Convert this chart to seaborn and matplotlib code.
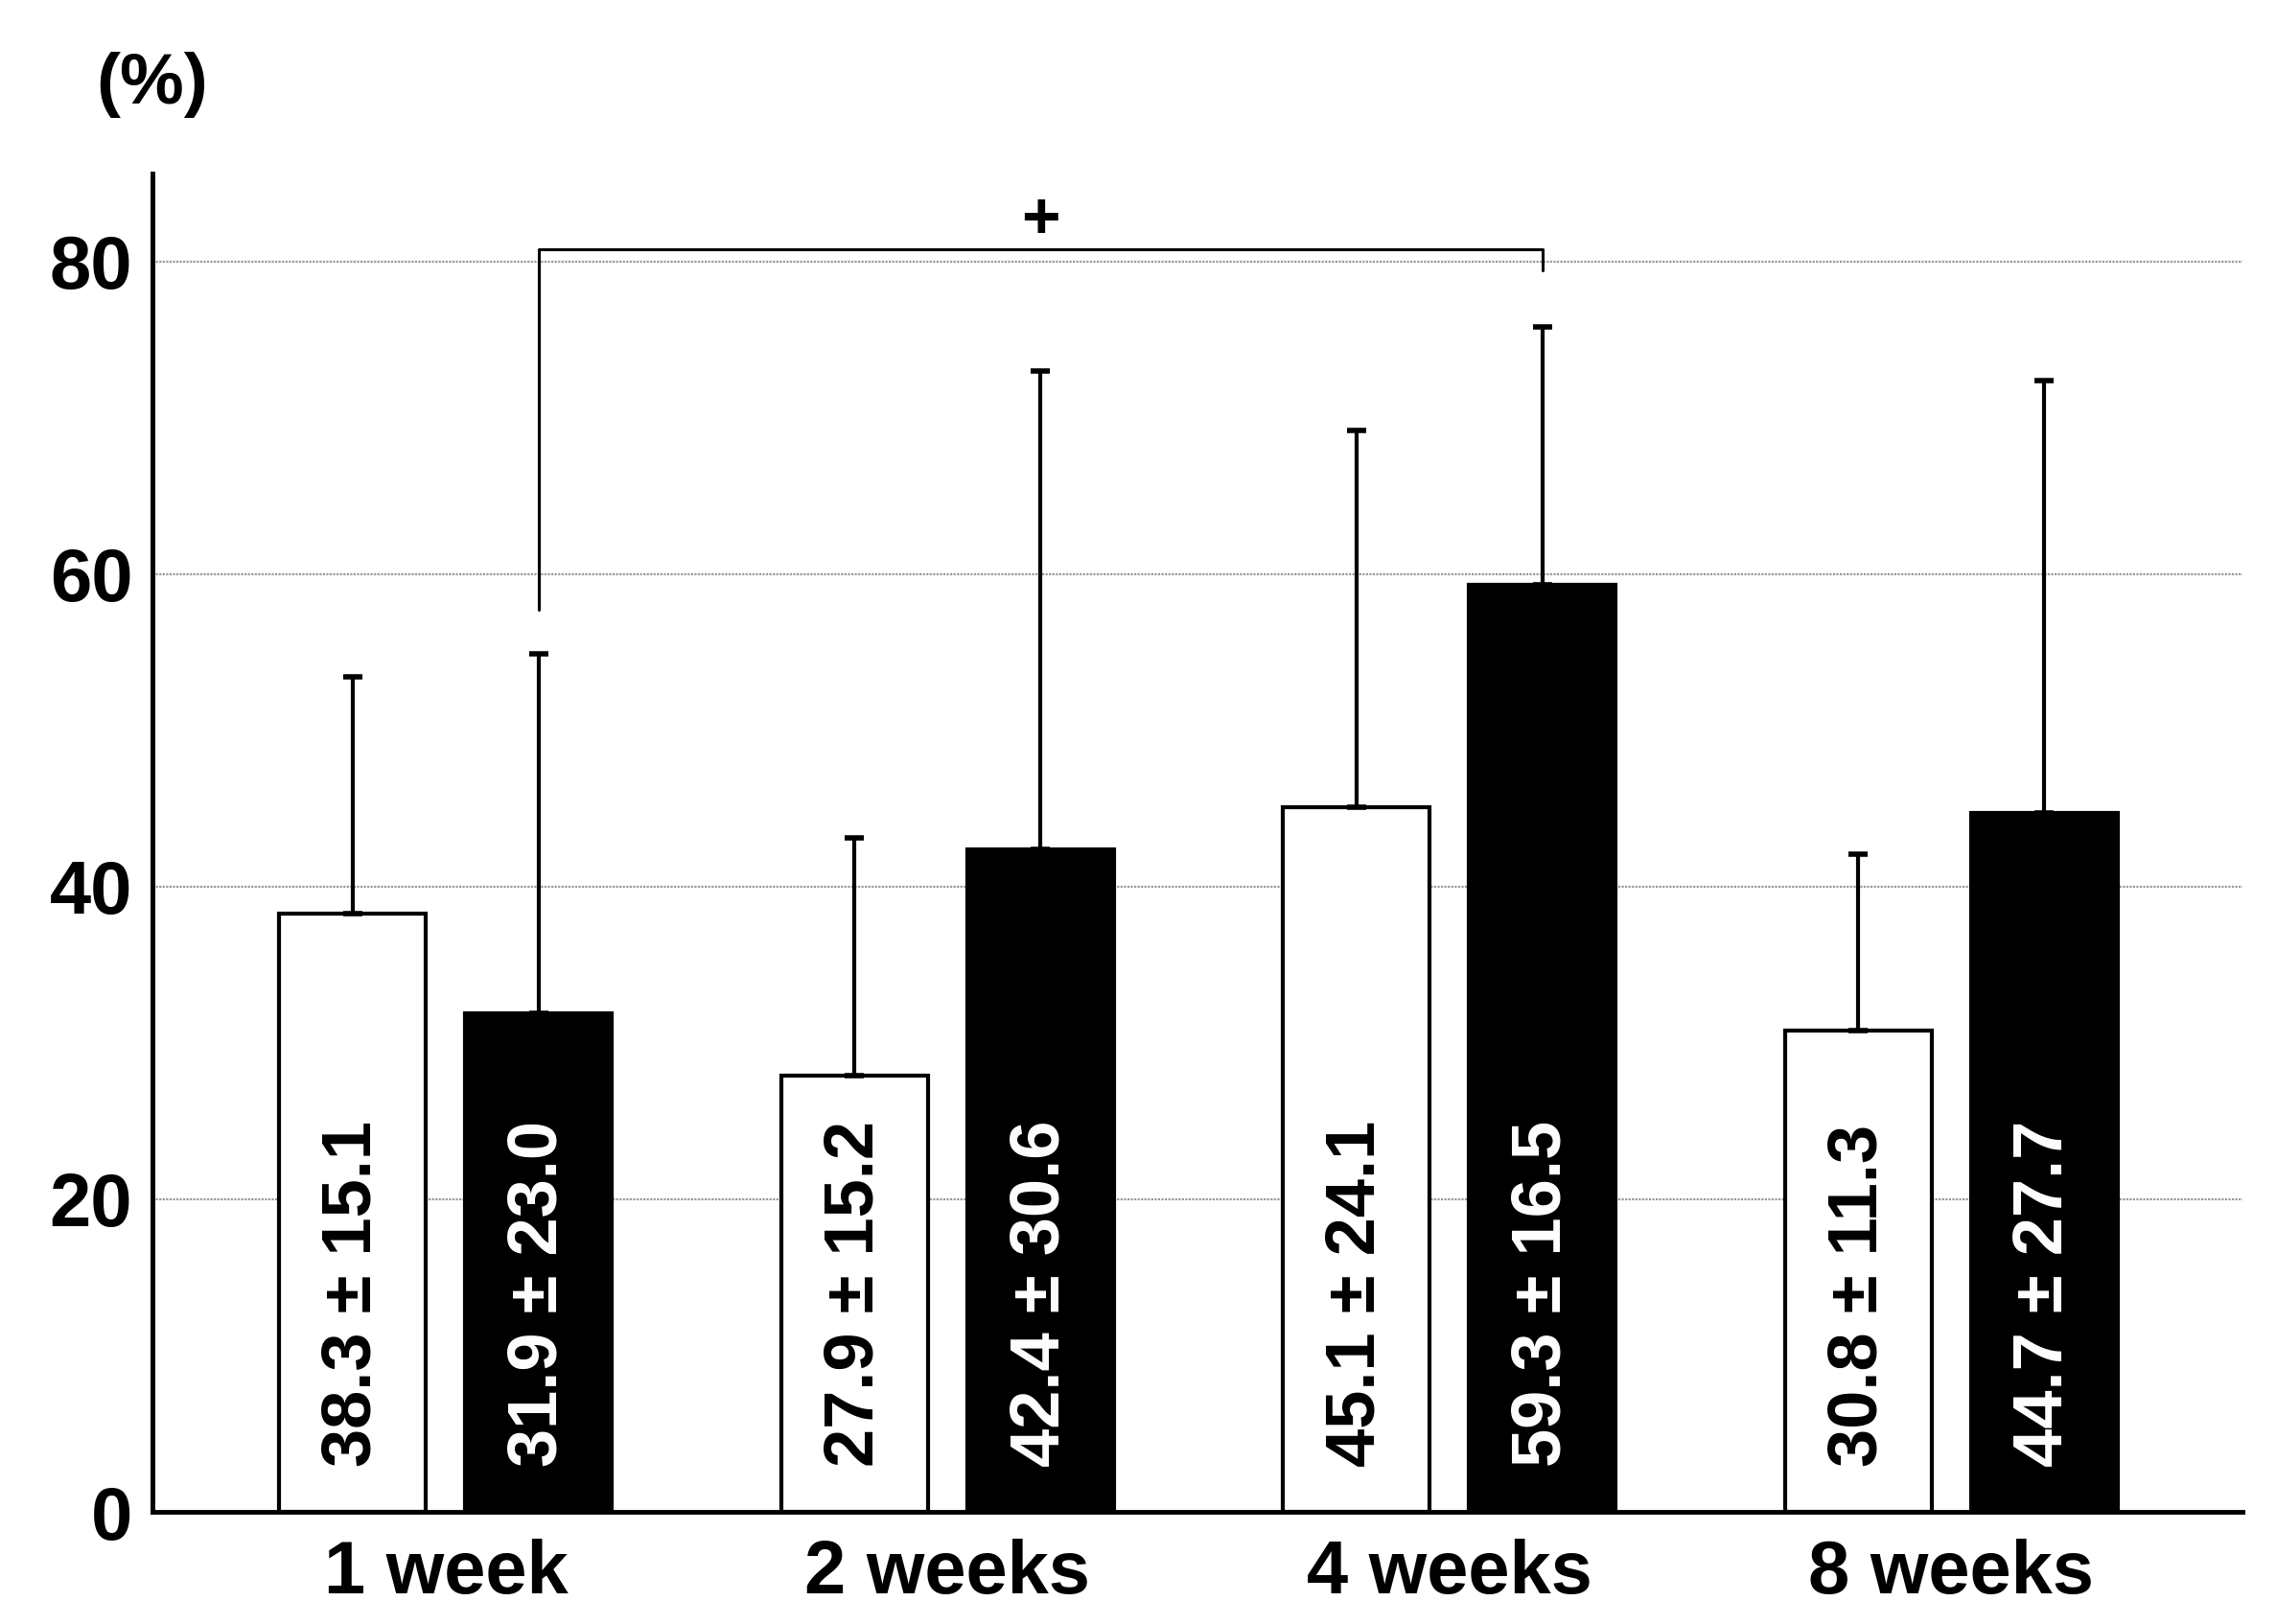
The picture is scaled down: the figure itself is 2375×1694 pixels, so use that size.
"""Bar chart of percentages by week for two groups, with SD error bars."""

import matplotlib

matplotlib.use("Agg")

import matplotlib.pyplot as plt
import pandas as pd
import seaborn as sns

weeks = ["1 week", "2 weeks", "4 weeks", "8 weeks"]
groups = ["control", "treated"]
control_mean = [38.3, 27.9, 45.1, 30.8]
control_sd = [15.1, 15.2, 24.1, 11.3]
treated_mean = [31.9, 42.4, 59.3, 44.7]
treated_sd = [23.0, 30.6, 16.5, 27.7]
y_ticks = [0, 20, 40, 60, 80]

LABEL_FONT = ["Liberation Sans Narrow", "Liberation Sans", "DejaVu Sans"]
BAR_FONT = ["Liberation Sans", "DejaVu Sans"]

df = pd.DataFrame(
    {
        "week": weeks * 2,
        "group": [groups[0]] * 4 + [groups[1]] * 4,
        "mean": control_mean + treated_mean,
        "sd": control_sd + treated_sd,
    }
)

sns.set_theme(style="white")
plt.rcParams["font.family"] = LABEL_FONT
plt.rcParams["text.color"] = "black"
plt.rcParams["xtick.color"] = "black"
plt.rcParams["ytick.color"] = "black"

fig = plt.figure(figsize=(23.75, 16.94), dpi=100)
ax = fig.add_axes([0.067, 0.069, 0.918, 0.824])

sns.barplot(
    data=df,
    x="week",
    y="mean",
    hue="group",
    order=weeks,
    hue_order=groups,
    palette={"control": "white", "treated": "black"},
    edgecolor="black",
    linewidth=3,
    width=0.74,
    gap=0.21,
    errorbar=None,
    legend=False,
    ax=ax,
)

# one-sided SD bars and the value labels inside every bar
centers = {}
for container, group in zip(ax.containers, groups):
    sub = df[df["group"] == group]
    xs = [bar.get_x() + bar.get_width() / 2 for bar in container]
    centers[group] = xs
    ax.errorbar(
        xs,
        sub["mean"],
        yerr=[[0] * len(xs), sub["sd"]],
        fmt="none",
        ecolor="black",
        elinewidth=3,
        capsize=7.5,
        capthick=4,
        zorder=1,
    )
    text_color = "black" if group == "control" else "white"
    for x, m, s in zip(xs, sub["mean"], sub["sd"]):
        ax.text(
            x, 2.9, f"{m:.1f} ± {s:.1f}",
            rotation=90, ha="center", va="bottom",
            color=text_color, fontsize=52, fontweight="bold",
            family=BAR_FONT, zorder=5,
        )

# significance bracket between 1 week and 4 weeks (treated)
x_left = centers["treated"][0]
x_right = centers["treated"][2]
ax.plot([x_left, x_left, x_right, x_right], [57.7, 80.8, 80.8, 79.4],
        color="black", linewidth=2.2, zorder=6)
ax.text((x_left + x_right) / 2, 82.6, "+", ha="center", va="center",
        fontsize=50, fontweight="bold", family=BAR_FONT)

ax.set_xlim(-0.584, 3.581)
ax.set_ylim(0, 85.6)
ax.set_yticks(y_ticks)
ax.set_xlabel("")
ax.set_ylabel("")
ax.yaxis.grid(True, color="#999999", linestyle=(0, (1, 0.6)), linewidth=1.6)
ax.set_axisbelow(True)

for side in ("top", "right"):
    ax.spines[side].set_visible(False)
for side in ("left", "bottom"):
    ax.spines[side].set_color("black")
    ax.spines[side].set_linewidth(3.5)

ax.tick_params(axis="y", direction="in", length=12, width=3.5, colors="black",
               labelsize=56, pad=15)
ax.tick_params(axis="x", direction="in", length=10, width=2.5, colors="black",
               labelsize=56, pad=20)
for label in ax.get_xticklabels() + ax.get_yticklabels():
    label.set_fontweight("bold")

fig.text(0.067, 0.948, "(%)", ha="center", va="center",
         fontsize=54, fontweight="bold")

fig.savefig("out.png", dpi=100)
